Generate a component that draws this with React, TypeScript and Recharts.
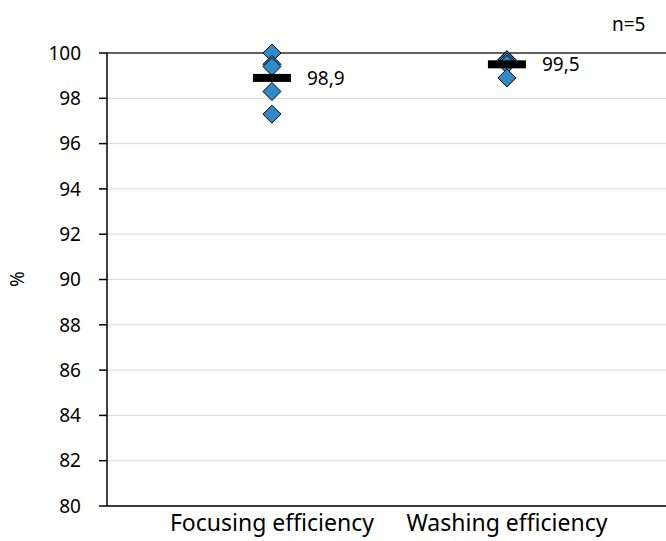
import React from 'react';
import {
  ComposedChart,
  Scatter,
  XAxis,
  YAxis,
  CartesianGrid,
  ReferenceLine,
} from 'recharts';

const categories = ['Focusing efficiency', 'Washing efficiency'];
const focusingValues = [100.0, 99.5, 99.4, 98.3, 97.3];
const washingValues = [99.7, 99.7, 99.6, 99.5, 98.9];
const meanValues = [98.9, 99.5];
const meanLabels = ['98,9', '99,5'];
const yTicks = [80, 82, 84, 86, 88, 90, 92, 94, 96, 98, 100];
const sampleNote = 'n=5';
const yTitle = '%';

const FONT = '"Noto Sans", sans-serif';

const pointData = [
  ...focusingValues.map((v) => ({ x: 1, y: v })),
  ...washingValues.map((v) => ({ x: 2, y: v })),
];
const meanData = meanValues.map((v, i) => ({ x: i + 1, y: v, label: meanLabels[i] }));

const Diamond = (props: any) => {
  const { cx, cy } = props;
  const r = 9;
  return (
    <polygon
      points={`${cx},${cy - r} ${cx + r},${cy} ${cx},${cy + r} ${cx - r},${cy}`}
      fill="#3189c6"
      stroke="#000"
      strokeWidth={1}
    />
  );
};

const MeanBar = (props: any) => {
  const { cx, cy, payload } = props;
  return (
    <g>
      <rect x={cx - 19} y={cy - 4} width={38} height={8} fill="#000" />
      <text x={cx + 35} y={cy} dy="0.35em" fontSize={19} fontFamily={FONT} fill="#000">
        {payload.label}
      </text>
    </g>
  );
};

export default function App() {
  return (
    <div style={{ position: 'absolute', left: 0, top: 0, width: 666, height: 541, background: '#fff' }}>
      <ComposedChart width={666} height={541} margin={{ top: 53, right: 0, left: 0, bottom: 0 }}>
        <CartesianGrid vertical={false} stroke="#d9d9d9" />
        <XAxis
          type="number"
          dataKey="x"
          domain={[0.298, 2.677]}
          allowDataOverflow
          ticks={[1, 2]}
          tickFormatter={(v: number) => categories[v - 1]}
          height={35}
          tickLine={false}
          tickSize={0}
          tickMargin={9}
          axisLine={{ stroke: '#000', strokeWidth: 1.5 }}
          tick={{ fill: '#000', fontSize: 23, fontFamily: FONT }}
        />
        <YAxis
          type="number"
          dataKey="y"
          domain={[80, 100]}
          ticks={yTicks}
          width={107}
          tickSize={8}
          tickMargin={18}
          axisLine={{ stroke: '#000', strokeWidth: 1.5 }}
          tickLine={{ stroke: '#000', strokeWidth: 1.5 }}
          tick={{ fill: '#000', fontSize: 19, fontFamily: FONT }}
        />
        <ReferenceLine y={100} stroke="#333" strokeWidth={1.5} />
        <Scatter data={pointData} shape={Diamond} isAnimationActive={false} />
        <Scatter data={meanData} shape={MeanBar} isAnimationActive={false} />
        <text
          x={17}
          y={279}
          transform="rotate(-90 17 279)"
          textAnchor="middle"
          dominantBaseline="central"
          fontSize={19}
          fontFamily={FONT}
          fill="#000"
        >
          {yTitle}
        </text>
        <text x={612} y={31} fontSize={19} fontFamily={FONT} fill="#000">
          {sampleNote}
        </text>
      </ComposedChart>
    </div>
  );
}
